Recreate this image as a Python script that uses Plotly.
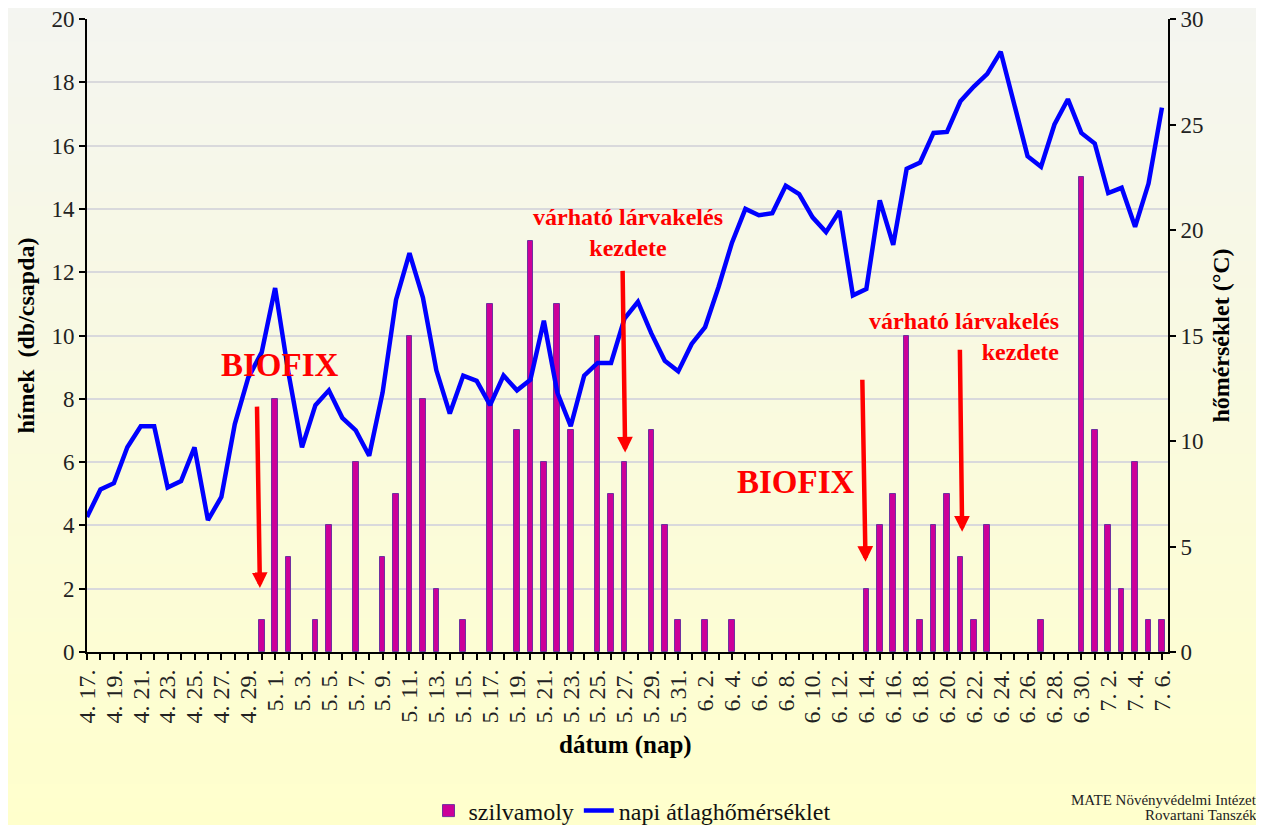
import plotly.graph_objects as go

# ---------------- data ----------------
dates = (
    [f"4. {d}." for d in range(17, 31)]
    + [f"5. {d}." for d in range(1, 32)]
    + [f"6. {d}." for d in range(1, 31)]
    + [f"7. {d}." for d in range(1, 7)]
)

# trap catches (males / trap) per day, 0 where no bar
moth_counts = [
    0, 0, 0, 0, 0, 0, 0, 0, 0, 0, 0, 0, 0, 1,          # 4.17-4.30
    8, 3, 0, 1, 4, 0, 6, 0, 3, 5, 10, 8, 2, 0, 1, 0,   # 5.1-5.16
    11, 0, 7, 13, 6, 11, 7, 0, 10, 5, 6, 0, 7, 4, 1,   # 5.17-5.31
    0, 1, 0, 1, 0, 0, 0, 0, 0, 0, 0, 0, 0,             # 6.1-6.13
    2, 4, 5, 10, 1, 4, 5, 3, 1, 4, 0, 0, 0, 1, 0, 0, 15,  # 6.14-6.30
    7, 4, 2, 6, 1, 1,                                  # 7.1-7.6
]

# daily mean temperature (°C)
temperature = [
    6.4, 7.7, 8.0, 9.7, 10.7, 10.7, 7.8, 8.1, 9.7, 6.25, 7.35, 10.8, 13.0, 14.2,
    17.25, 13.2, 9.7, 11.7, 12.4, 11.1, 10.5, 9.3, 12.3, 16.7, 18.9, 16.8, 13.35,
    11.3, 13.1, 12.85, 11.7, 13.1, 12.4, 12.9, 15.7, 12.3, 10.7, 13.1, 13.7, 13.7,
    15.8, 16.6, 15.1, 13.8, 13.3,
    14.6, 15.4, 17.3, 19.4, 21.0, 20.7, 20.8, 22.1, 21.7, 20.6, 19.9, 20.9, 16.9,
    17.2, 21.4, 19.3, 22.9, 23.2, 24.6, 24.65, 26.1, 26.8, 27.4, 28.45, 26.0, 23.5,
    23.0, 25.0, 26.2, 24.6,
    24.1, 21.75, 22.0, 20.15, 22.2, 25.8,
]

x_idx = list(range(len(dates)))
tick_idx = x_idx[::2]
tick_text = dates[::2]
bar_vals = [v if v else None for v in moth_counts]

# annotation texts / positions (x = day index, y = left-axis units)
biofix_text = "BIOFIX"
larva_text = "várható lárvakelés<br>kezdete"
arrows = [  # (tail_x, tail_y, tip_x, tip_y)
    (12.65, 7.8, 12.87, 2.02),
    (39.86, 12.09, 40.05, 6.3),
    (57.7, 8.65, 57.94, 2.85),
    (64.96, 9.6, 65.13, 3.8),
]

SERIF = "Liberation Serif"

# geometry (page has an 8px body margin)
OFF = 8
W, H = 1264 - OFF, 825 - OFF
L, T = 87 - OFF, 19 - OFF
R = W - (1168 - OFF)
B = H - (652 - OFF)
pw, ph = W - L - R, H - T - B


def px(xs):  # screen x -> paper
    return (xs - 87) / pw


def py(ys):  # screen y -> paper
    return (652 - ys) / ph


fig = go.Figure()

fig.add_trace(go.Bar(
    x=x_idx, y=bar_vals, name="szilvamoly",
    marker=dict(color="#CC0099", line=dict(color="#7030A0", width=1)),
    width=0.42, yaxis="y",
))
fig.add_trace(go.Scatter(
    x=x_idx, y=temperature, name="napi átlaghőmérséklet",
    mode="lines", line=dict(color="#0000FF", width=4.5), yaxis="y2",
))

# background gradient (bands)
nb = 60
top_c = (244, 245, 241)
bot_c = (255, 255, 204)
shapes = []
for i in range(nb):
    y0s = -OFF + (H + OFF) * i / nb
    y1s = -OFF + (H + OFF) * (i + 1) / nb + 1
    f = (i + 0.5) / nb
    c = tuple(round(top_c[k] + (bot_c[k] - top_c[k]) * f) for k in range(3))
    shapes.append(dict(
        type="rect", xref="paper", yref="paper", layer="below",
        x0=-L / pw - 0.02, x1=1 + R / pw + 0.02,
        y0=(H - B - y1s) / ph, y1=(H - B - y0s) / ph,
        fillcolor=f"rgb{c}", line=dict(width=0),
    ))

annotations = []
red_big = dict(family=SERIF, size=33, color="#FF0000")
red_mid = dict(family=SERIF, size=24, color="#FF0000")
annotations.append(dict(x=14.4, y=9.07, xref="x", yref="y", text=f"<b>{biofix_text}</b>",
                        showarrow=False, font=red_big, xanchor="center", yanchor="middle"))
annotations.append(dict(x=52.8, y=5.37, xref="x", yref="y", text=f"<b>{biofix_text}</b>",
                        showarrow=False, font=red_big, xanchor="center", yanchor="middle"))
annotations.append(dict(x=40.25, y=13.24, xref="x", yref="y", text=f"<b>{larva_text}</b>",
                        showarrow=False, font=red_mid, align="center",
                        xanchor="center", yanchor="middle"))
annotations.append(dict(x=72.5, y=9.98, xref="x", yref="y", text=f"<b>{larva_text}</b>",
                        showarrow=False, font=red_mid, align="right",
                        xanchor="right", yanchor="middle"))
for tx, ty, hx, hy in arrows:
    annotations.append(dict(
        x=hx, y=hy, ax=tx, ay=ty, xref="x", yref="y", axref="x", ayref="y",
        text="", showarrow=True, arrowhead=2, arrowsize=0.7, arrowwidth=4.5,
        arrowcolor="#FF0000",
    ))
# x-axis title
annotations.append(dict(x=px(625), y=py(745), xref="paper", yref="paper",
                        xanchor="center", yanchor="middle",
                        text="<b>dátum (nap)</b>", showarrow=False,
                        font=dict(family=SERIF, size=25, color="#000000")))
# credit text
annotations.append(dict(x=px(1259), y=py(800), xref="paper", yref="paper",
                        xanchor="right", yanchor="middle",
                        text="MATE Növényvédelmi Intézet", showarrow=False,
                        font=dict(family=SERIF, size=15, color="#222222")))
annotations.append(dict(x=px(1259), y=py(815), xref="paper", yref="paper",
                        xanchor="right", yanchor="middle",
                        text="Rovartani Tanszék", showarrow=False,
                        font=dict(family=SERIF, size=15, color="#222222")))

fig.update_layout(
    width=W, height=H,
    margin=dict(l=L, r=R, t=T, b=B, pad=0, autoexpand=False),
    paper_bgcolor="#FFFFCC",
    plot_bgcolor="rgba(0,0,0,0)",
    font=dict(family=SERIF, color="#222222"),
    shapes=shapes,
    annotations=annotations,
    bargap=0,
    showlegend=True,
    legend=dict(
        orientation="h", x=px(632), xanchor="center",
        y=py(811), yanchor="middle",
        font=dict(family=SERIF, size=24, color="#111111"),
        bgcolor="rgba(0,0,0,0)", tracegroupgap=0,
    ),
    xaxis=dict(
        range=[0, 80.45],
        tickmode="array", tickvals=tick_idx, ticktext=tick_text,
        tickangle=-90, tickfont=dict(family=SERIF, size=24, color="#222222"),
        ticks="outside", ticklen=6, tickwidth=1.5, tickcolor="#000000",
        minor=dict(dtick=1, tick0=0, ticks="outside", ticklen=6, tickwidth=1.5,
                   tickcolor="#000000", showgrid=False),
        showline=True, linecolor="#000000", linewidth=2,
        showgrid=False, zeroline=False, ticklabeloverflow="allow",
    ),
    yaxis=dict(
        range=[0, 20], dtick=2, tick0=0,
        ticks="outside", ticklen=6, tickwidth=1.5, tickcolor="#000000",
        tickfont=dict(family=SERIF, size=23, color="#222222"),
        showline=True, linecolor="#000000", linewidth=2,
        showgrid=True, gridcolor="#D9D9DC", gridwidth=2, zeroline=False,
        ticklabeloverflow="allow",
        title=dict(text="<b>hímek  (db/csapda)</b>",
                   font=dict(family=SERIF, size=24, color="#000000"), standoff=10),
    ),
    yaxis2=dict(
        range=[0, 30], dtick=5, tick0=0, overlaying="y", side="right",
        ticks="outside", ticklen=6, tickwidth=1.5, tickcolor="#000000",
        tickfont=dict(family=SERIF, size=23, color="#222222"),
        showline=True, linecolor="#000000", linewidth=2,
        showgrid=False, zeroline=False, ticklabeloverflow="allow",
        title=dict(text="<b>hőmérséklet (°C)</b>",
                   font=dict(family=SERIF, size=24, color="#000000"), standoff=10),
    ),
)

fig.write_html("out.html")
